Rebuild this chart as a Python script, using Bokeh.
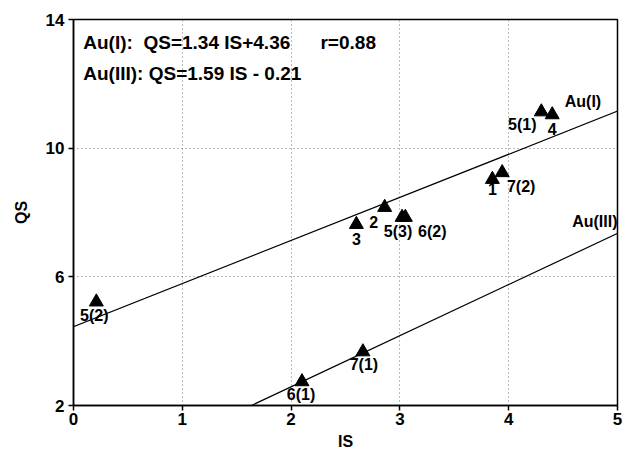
from bokeh.plotting import figure
from bokeh.models import ColumnDataSource, FixedTicker, Range1d, Label, Slope
from bokeh.core.properties import value
from bokeh.embed import file_html
from bokeh.resources import INLINE

# ---- data ----
IS = [0.21, 2.10, 2.66, 2.60, 2.86, 3.02, 3.05, 3.85, 3.94, 4.30, 4.40]
QS = [5.22, 2.74, 3.67, 7.63, 8.16, 7.85, 7.85, 9.03, 9.24, 11.13, 11.04]
point_labels = ["5(2)", "6(1)", "7(1)", "3", "2", "5(3)", "6(2)", "1", "7(2)", "5(1)", "4"]

fit_names = ["Au(I)", "Au(III)"]
fit_slopes = [1.34, 1.59]
fit_intercepts = [4.45, -0.60]   # as drawn in the picture
equations = ["Au(I):\u00a0\u00a0QS=1.34 IS+4.36", "Au(III): QS=1.59 IS - 0.21"]
r_text = "r=0.88"

x_ticks = [0, 1, 2, 3, 4, 5]
y_ticks = [2, 6, 10, 14]

# ---- label placement (pixels, style only) ----
lbl_dx = [-2, -1, 1, 0, -11, -4, 27, 0, 19, -19, 0]
lbl_dy = [14, 13, 13, 15, 15, 14, 14, 10, 14, 13, 14]

FONT = "Liberation Sans"

p = figure(width=622, height=452, output_backend="svg", toolbar_location=None,
           x_range=Range1d(0, 5), y_range=Range1d(2, 14),
           min_border_left=73, min_border_right=5, min_border_top=19, min_border_bottom=45)

p.outline_line_color = "black"
p.outline_line_width = 1.5

for ax in (p.xaxis[0], p.yaxis[0]):
    ax.major_label_text_font = FONT
    ax.major_label_text_font_style = "bold"
    ax.major_label_text_font_size = "17px"
    ax.major_label_text_color = "black"
    ax.axis_label_text_font = FONT
    ax.axis_label_text_font_style = "bold"
    ax.axis_label_text_font_size = "16px"
    ax.axis_label_text_color = "black"
    ax.axis_line_color = "black"
    ax.axis_line_width = 1.5
    ax.major_tick_line_color = "black"
    ax.major_tick_line_width = 1.5
    ax.major_tick_out = 5
    ax.major_tick_in = 0
    ax.minor_tick_line_color = None

p.xaxis.ticker = FixedTicker(ticks=x_ticks)
p.yaxis.ticker = FixedTicker(ticks=y_ticks)
p.xaxis.axis_label = "IS"
p.yaxis.axis_label = "QS"
p.xaxis.major_label_standoff = 2
p.yaxis.major_label_standoff = 4
p.xaxis.axis_label_standoff = 5
p.yaxis.axis_label_standoff = 13

for g in (p.xgrid[0], p.ygrid[0]):
    g.grid_line_color = "#777777"
    g.grid_line_dash = "1 3"
    g.grid_line_width = 1

for m, b in zip(fit_slopes, fit_intercepts):
    p.add_layout(Slope(gradient=m, y_intercept=b, line_color="black", line_width=1.2))

src = ColumnDataSource(dict(x=IS, y=QS, t=point_labels, dx=lbl_dx, dy=lbl_dy))
p.scatter("x", "y", source=src, marker="triangle", size=14, color="black")
p.text("x", "y", text="t", source=src, x_offset="dx", y_offset="dy",
       text_font=value(FONT), text_font_style="bold", text_font_size="16px",
       text_align="center", text_baseline="middle", text_color="black")

lab_kw = dict(text_baseline="middle", text_font=FONT, text_font_style="bold", text_color="black")

# fit line names
p.add_layout(Label(x=4.85, y=11.44, text=fit_names[0], text_align="right", text_font_size="16px", **lab_kw))
p.add_layout(Label(x=5.0, y=7.73, text=fit_names[1], text_align="right", text_font_size="16px", **lab_kw))

# equations
p.add_layout(Label(x=0.09, y=13.28, text=equations[0], text_font_size="19px", **lab_kw))
p.add_layout(Label(x=0.09, y=12.33, text=equations[1], text_font_size="19px", **lab_kw))
p.add_layout(Label(x=2.27, y=13.28, text=r_text, text_font_size="19px", **lab_kw))

open("out.html", "w").write(file_html(p, INLINE))
